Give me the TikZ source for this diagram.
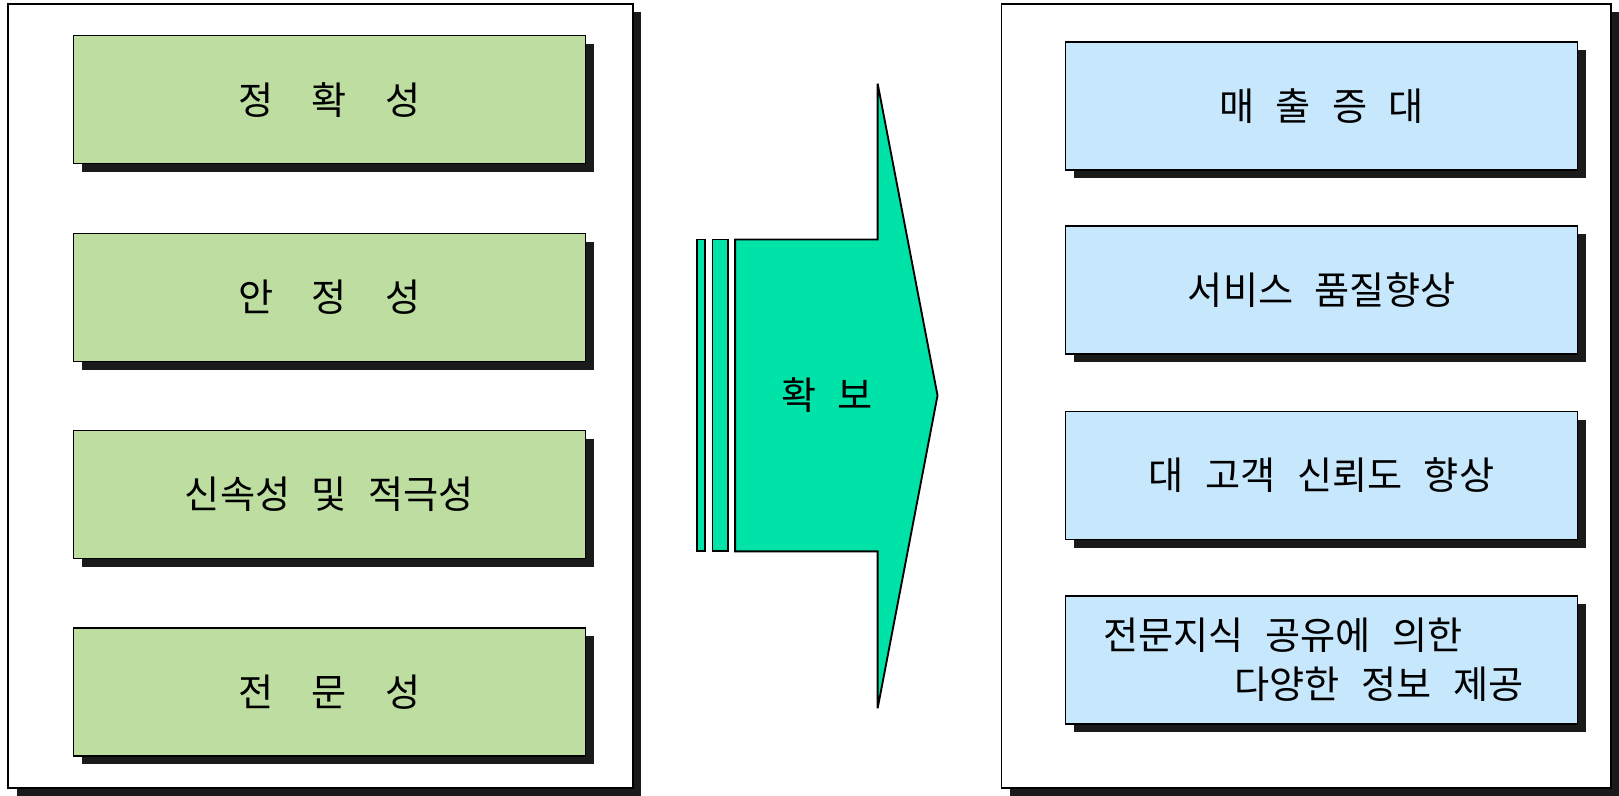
\documentclass[tikz,border=0pt]{standalone}
\usepackage{fontspec}
\usepackage{tikz}
\newfontfamily\krfont{Noto Sans CJK KR}
\usetikzlibrary{shadows}
\definecolor{boxgreen}{HTML}{BDDEA0}
\definecolor{boxblue}{HTML}{C6E7FC}
\definecolor{arrowgreen}{HTML}{00E3A8}
\definecolor{shadowblack}{HTML}{1A1A1A}
\newcommand{\krtext}{\krfont\fontsize{18.5}{24}\selectfont\spaceskip=0.56em\relax}
\newcommand{\wide}{\hspace{1em}}
\tikzset{boxshadow/.style = {drop shadow={shadow xshift=4pt, shadow yshift=-4pt,
                                          fill=shadowblack, opacity=1}},
         panel/.style     = {draw, line width=0.9pt, fill=white, inner sep=0pt,
                             minimum height=379.5pt, boxshadow},
         item/.style      = {draw, line width=0.75pt, minimum width=248pt, minimum height=62pt,
                             inner sep=0pt, font=\krtext, boxshadow},
         greenbox/.style  = {item, fill=boxgreen},
         bluebox/.style   = {item, fill=boxblue}}

\begin{document}
\begin{tikzpicture}[x=0.5pt, y=-0.5pt]
      \useasboundingbox (0, 0) rectangle (1568, 770);
      \node [panel, minimum width=302.5pt] (left) at (310.5, 383.5) {};
      \node [panel, minimum width=295pt] (right) at (1265, 383.5) {};
      % what is needed
      \node [greenbox] (accuracy) at (319, 96.5) {정\wide 확\wide 성};
      \node [greenbox] (stability) at (319, 288) {안\wide 정\wide 성};
      \node [greenbox] (speed) at (319, 479) {신속성 및 적극성};
      \node [greenbox] (expertise) at (319, 670) {전\wide 문\wide 성};
      % what it brings
      \node [bluebox] (sales) at (1280, 102.5) {매 출 증 대};
      \node [bluebox] (service) at (1280, 281) {서비스 품질향상};
      \node [bluebox] (trust) at (1280, 460.5) {대 고객 신뢰도 향상};
      \node [bluebox, align=left] (sharing) at (1280, 639)
            {전문지식 공유에 의한\\\hspace*{63.5pt}다양한 정보 제공\hspace*{8pt}};
      \draw [line width=0.9pt, fill=arrowgreen] (675, 232) rectangle (683, 534);
      \draw [line width=0.9pt, fill=arrowgreen] (690, 232) rectangle (705, 534);
      \draw [line width=0.9pt, fill=arrowgreen] (712, 232) -- (850, 232) -- (850, 81) -- (908, 383)
            -- (850, 686) -- (850, 534) -- (712, 534) -- cycle;
      \node [font=\krtext] (secure) at (801, 383) {확 보};
    \end{tikzpicture}
\end{document}
